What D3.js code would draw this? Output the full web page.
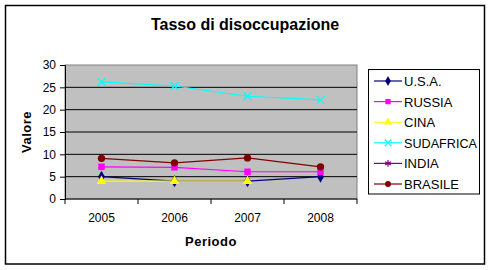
<!DOCTYPE html>
<html>
<head>
<meta charset="utf-8">
<script src="https://cdn.jsdelivr.net/npm/d3@7"></script>
<style>
  body { margin: 0; background: #fff; }
  text { font-family: "Liberation Sans", Arial, sans-serif; }
</style>
</head>
<body>
<div id="chart"></div>
<script>
var years = ["2005", "2006", "2007", "2008"];
var seriesNames = ["U.S.A.", "RUSSIA", "CINA", "SUDAFRICA", "INDIA", "BRASILE"];
var usa = [5, 4, 4, 5];
var russia = [7.2, 7.1, 6.1, 6.1];
var cina = [4, 4, 4, null];
var sudafrica = [26.2, 25.3, 23, 22.2];
var india = [null, null, null, null];
var brasile = [9.1, 8.1, 9.2, 7.2];
var yTicks = [0, 5, 10, 15, 20, 25, 30];

var allValues = [usa, russia, cina, sudafrica, india, brasile];
var colors = ["#000080", "#FF00FF", "#FFFF00", "#00FFFF", "#800080", "#800000"];
var symbols = [d3.symbolDiamond, d3.symbolSquare, d3.symbolTriangle, d3.symbolX, d3.symbolAsterisk, d3.symbolCircle];

var width = 491, height = 270;
var pLeft = 65, pRight = 357, pTop = 65, pBottom = 199;

var svg = d3.select("#chart").append("svg")
    .attr("width", width)
    .attr("height", height);

svg.append("rect")
    .attr("x", 5.5).attr("y", 5.5)
    .attr("width", 479).attr("height", 258.5)
    .attr("fill", "#fff")
    .attr("stroke", "#000")
    .attr("stroke-width", 1.5);

var x = d3.scaleBand().domain(years).range([pLeft, pRight]);
var y = d3.scaleLinear().domain([0, 30]).range([pBottom, pTop]);

// plot area
svg.append("rect")
    .attr("x", pLeft).attr("y", pTop)
    .attr("width", pRight - pLeft).attr("height", pBottom - pTop)
    .attr("fill", "#C0C0C0")
    .attr("stroke", "#808080");

// gridlines
svg.selectAll(".grid")
    .data(yTicks.filter(function(d) { return d > 0 && d < 30; }))
    .enter().append("line")
    .attr("x1", pLeft).attr("x2", pRight)
    .attr("y1", function(d) { return y(d); })
    .attr("y2", function(d) { return y(d); })
    .attr("stroke", "#000");

// y axis
var yAxis = svg.append("g")
    .attr("transform", "translate(" + pLeft + ",0)")
    .call(d3.axisLeft(y).tickValues(yTicks).tickSize(5).tickPadding(4));
yAxis.select(".domain").attr("stroke", "#000");
yAxis.selectAll(".tick line").attr("stroke", "#000");
yAxis.selectAll("text").attr("font-size", 12).attr("fill", "#000")
    .style("font-family", "Liberation Sans, Arial, sans-serif");

// x axis with ticks between categories
var xAxis = svg.append("g")
    .attr("transform", "translate(0," + pBottom + ")");
xAxis.append("line")
    .attr("x1", pLeft).attr("x2", pRight)
    .attr("stroke", "#000");
xAxis.selectAll(".tick")
    .data(years.concat(["end"]))
    .enter().append("line")
    .attr("x1", function(d, i) { return i < years.length ? x(d) : pRight; })
    .attr("x2", function(d, i) { return i < years.length ? x(d) : pRight; })
    .attr("y1", 0).attr("y2", 5)
    .attr("stroke", "#000");
xAxis.selectAll(".lbl")
    .data(years)
    .enter().append("text")
    .attr("x", function(d) { return x(d) + x.bandwidth() / 2; })
    .attr("y", 23)
    .attr("text-anchor", "middle")
    .attr("font-size", 12)
    .text(function(d) { return d; });

// series
var line = d3.line()
    .defined(function(d) { return d != null; })
    .x(function(d, i) { return x(years[i]) + x.bandwidth() / 2; })
    .y(function(d) { return y(d); });

allValues.forEach(function(vals, k) {
    svg.append("path")
        .attr("d", line(vals))
        .attr("fill", "none")
        .attr("stroke", colors[k])
        .attr("stroke-width", 1.2);
});

allValues.forEach(function(vals, k) {
    var sym = d3.symbol().type(symbols[k]).size(k == 3 || k == 4 ? 44 : 42);
    svg.selectAll(".m" + k)
        .data(vals.map(function(v, i) { return { v: v, i: i }; }).filter(function(d) { return d.v != null; }))
        .enter().append("path")
        .attr("d", sym)
        .attr("transform", function(d) {
            return "translate(" + (x(years[d.i]) + x.bandwidth() / 2) + "," + y(d.v) + ")";
        })
        .attr("fill", k == 3 || k == 4 ? "none" : colors[k])
        .attr("stroke", colors[k])
        .attr("stroke-width", k == 3 || k == 4 ? 1.2 : 0);
});

// titles
svg.append("text")
    .attr("x", 245).attr("y", 30)
    .attr("text-anchor", "middle")
    .attr("font-size", 16)
    .attr("font-weight", "bold")
    .text("Tasso di disoccupazione");

svg.append("text")
    .attr("x", (pLeft + pRight) / 2).attr("y", 246)
    .attr("text-anchor", "middle")
    .attr("font-size", 13)
    .attr("font-weight", "bold")
    .attr("letter-spacing", 0.5)
    .text("Periodo");

svg.append("text")
    .attr("transform", "translate(31," + (pTop + pBottom) / 2 + ") rotate(-90)")
    .attr("text-anchor", "middle")
    .attr("font-size", 13)
    .attr("font-weight", "bold")
    .attr("letter-spacing", 0.5)
    .text("Valore");

// legend
var legend = svg.append("g");
legend.append("rect")
    .attr("x", 368.5).attr("y", 69.5)
    .attr("width", 111).attr("height", 124.5)
    .attr("fill", "#fff")
    .attr("stroke", "#000");

var ly = d3.scalePoint().domain(seriesNames).range([81, 184]);
seriesNames.forEach(function(name, k) {
    var g = legend.append("g").attr("transform", "translate(0," + ly(name) + ")");
    g.append("line")
        .attr("x1", 374).attr("x2", 402)
        .attr("stroke", colors[k]).attr("stroke-width", 1.2);
    g.append("path")
        .attr("d", d3.symbol().type(symbols[k]).size(k == 3 || k == 4 ? 30 : 28))
        .attr("transform", "translate(388,0)")
        .attr("fill", k == 3 || k == 4 ? "none" : colors[k])
        .attr("stroke", colors[k])
        .attr("stroke-width", k == 3 || k == 4 ? 1.2 : 0);
    g.append("text")
        .attr("x", 404).attr("y", 5)
        .attr("font-size", 13)
        .attr("textLength", name.length > 8 ? 73 : null)
        .attr("lengthAdjust", "spacingAndGlyphs")
        .text(name);
});
</script>
</body>
</html>
